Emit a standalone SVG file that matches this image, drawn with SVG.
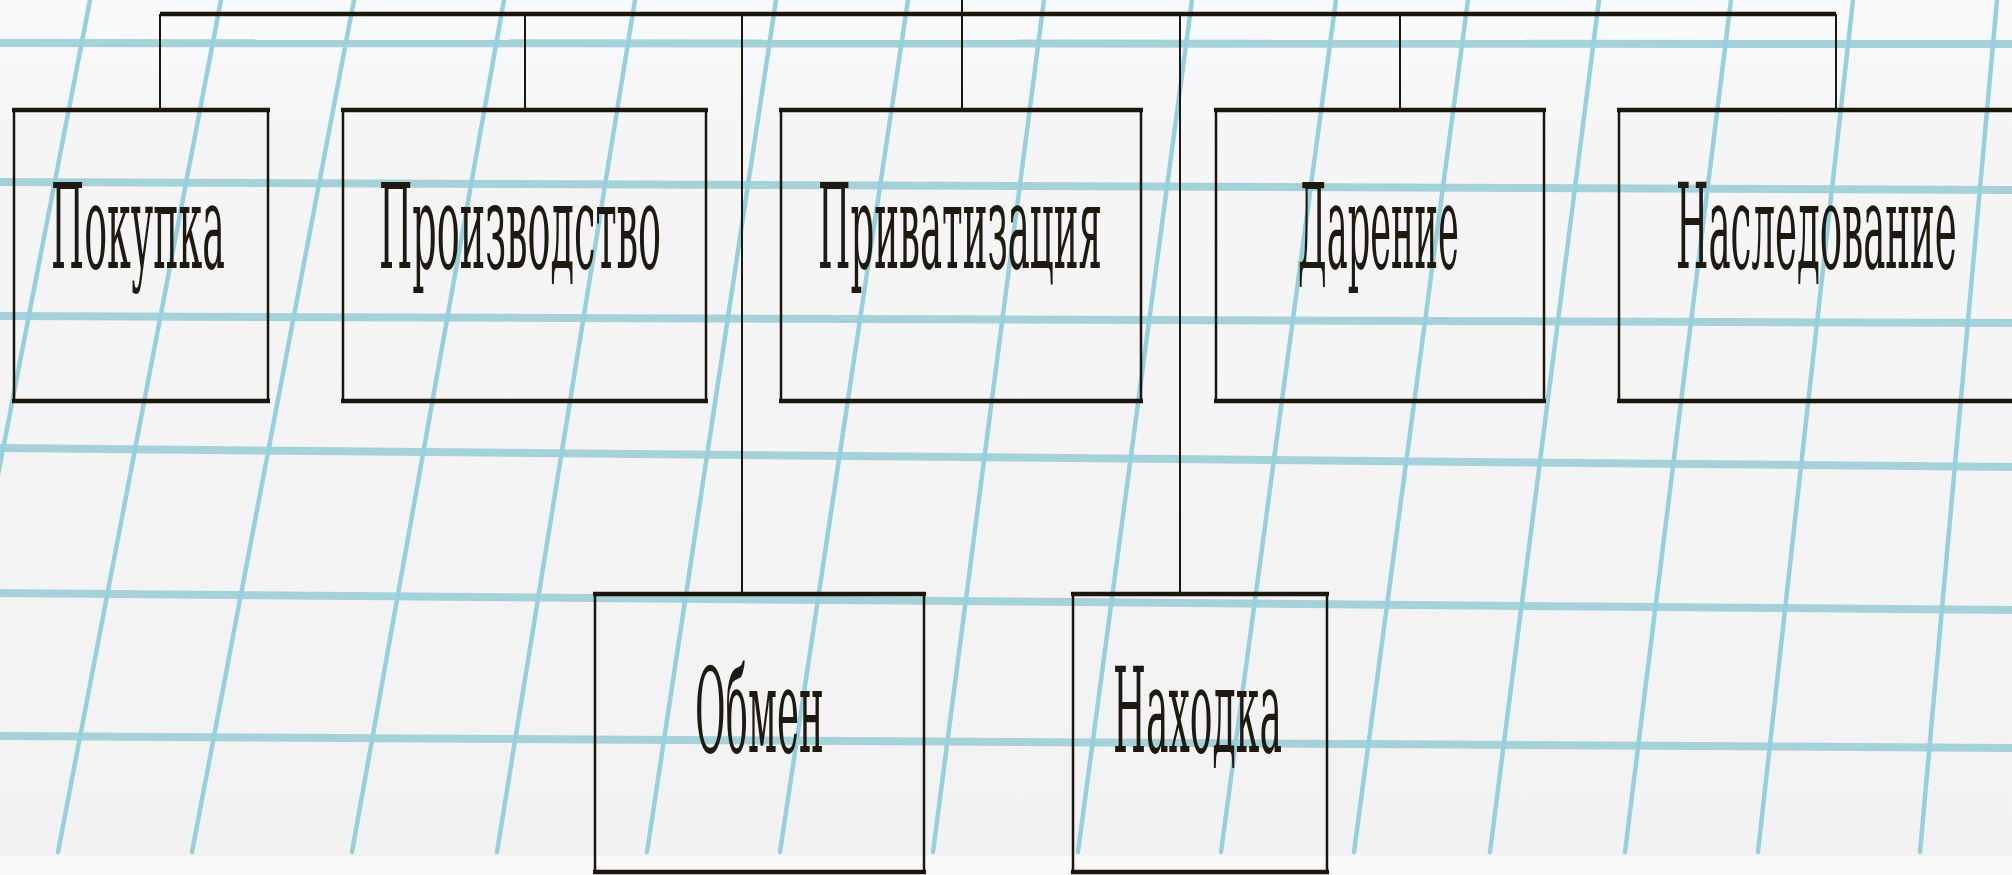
<svg xmlns="http://www.w3.org/2000/svg" width="2012" height="875" viewBox="0 0 2012 875">
<style>
.hl{stroke:#a5d2d9;stroke-width:8;fill:none}
.sl{stroke:#95d0df;stroke-width:4.5;fill:none;stroke-linecap:round}
.box{fill:none;stroke:#1b170c;stroke-width:2.5}
.edge{stroke:#1b170c;stroke-width:4.5}
.con{stroke:#1b170c;stroke-width:2;fill:none}
.bar{stroke:#1b170c;stroke-width:4.5;fill:none}
.lbl{font-family:"DejaVu Serif","Liberation Serif",serif;font-size:118px;fill:#1e1a10}
</style>
<defs>
<linearGradient id="bg" x1="0" y1="0" x2="0" y2="1">
<stop offset="0" stop-color="#f8fafb"/>
<stop offset="0.15" stop-color="#f6f5f6"/>
<stop offset="1" stop-color="#f3f2f3"/>
</linearGradient>
</defs>
<rect x="0" y="0" width="2012" height="875" fill="url(#bg)"/>
<rect x="0" y="856" width="2012" height="19" fill="#fafafa"/>
<g id="grid">
<line class="hl" x1="0" y1="43" x2="2012" y2="44"/>
<line class="hl" x1="0" y1="182" x2="2012" y2="190"/>
<line class="hl" x1="0" y1="316" x2="2012" y2="323"/>
<line class="hl" x1="0" y1="448" x2="2012" y2="467"/>
<line class="hl" x1="0" y1="593" x2="2012" y2="610"/>
<line class="hl" x1="0" y1="736" x2="2012" y2="748"/>
<line class="sl" x1="-75" y1="852" x2="90" y2="0"/>
<line class="sl" x1="58" y1="852" x2="221" y2="0"/>
<line class="sl" x1="192" y1="852" x2="354" y2="0"/>
<line class="sl" x1="352" y1="852" x2="504" y2="0"/>
<line class="sl" x1="497" y1="852" x2="635" y2="0"/>
<line class="sl" x1="647" y1="852" x2="776" y2="0"/>
<line class="sl" x1="780" y1="852" x2="908" y2="0"/>
<line class="sl" x1="933" y1="852" x2="1044" y2="0"/>
<line class="sl" x1="1078" y1="852" x2="1192" y2="0"/>
<line class="sl" x1="1221" y1="852" x2="1336" y2="0"/>
<line class="sl" x1="1354" y1="852" x2="1468" y2="0"/>
<line class="sl" x1="1490" y1="852" x2="1599" y2="0"/>
<line class="sl" x1="1625" y1="852" x2="1731" y2="0"/>
<line class="sl" x1="1758" y1="852" x2="1853" y2="0"/>
<line class="sl" x1="1920" y1="852" x2="1997" y2="0"/>
</g>
<g id="connectors">
<line class="bar" x1="160" y1="14" x2="1836" y2="14"/>
<line class="con" x1="160" y1="14" x2="160" y2="110"/>
<line class="con" x1="525" y1="14" x2="525" y2="110"/>
<line class="con" x1="962" y1="0" x2="962" y2="110"/>
<line class="con" x1="1400" y1="14" x2="1400" y2="110"/>
<line class="con" x1="1836" y1="14" x2="1836" y2="110"/>
<line class="con" x1="742" y1="14" x2="742" y2="594"/>
<line class="con" x1="1180" y1="14" x2="1180" y2="594"/>
</g>
<g id="node-pokupka">
<rect class="box" x="14" y="110" width="254" height="291"/>
<line class="edge" x1="12" y1="110" x2="270" y2="110"/><line class="edge" x1="12" y1="401" x2="270" y2="401"/>
<text class="lbl" transform="translate(51,268) scale(0.31,1)" x="0" y="0" textLength="561" lengthAdjust="spacingAndGlyphs">Покупка</text>
</g>
<g id="node-proizvodstvo">
<rect class="box" x="343" y="110" width="363" height="291"/>
<line class="edge" x1="341" y1="110" x2="708" y2="110"/><line class="edge" x1="341" y1="401" x2="708" y2="401"/>
<text class="lbl" transform="translate(379,268) scale(0.31,1)" x="0" y="0" textLength="910" lengthAdjust="spacingAndGlyphs">Производство</text>
</g>
<g id="node-privatizatsiya">
<rect class="box" x="781" y="110" width="360" height="291"/>
<line class="edge" x1="779" y1="110" x2="1143" y2="110"/><line class="edge" x1="779" y1="401" x2="1143" y2="401"/>
<text class="lbl" transform="translate(818,268) scale(0.31,1)" x="0" y="0" textLength="916" lengthAdjust="spacingAndGlyphs">Приватизация</text>
</g>
<g id="node-darenie">
<rect class="box" x="1216" y="110" width="328" height="291"/>
<line class="edge" x1="1214" y1="110" x2="1546" y2="110"/><line class="edge" x1="1214" y1="401" x2="1546" y2="401"/>
<text class="lbl" transform="translate(1298,268) scale(0.31,1)" x="0" y="0" textLength="519" lengthAdjust="spacingAndGlyphs">Дарение</text>
</g>
<g id="node-nasledovanie">
<rect class="box" x="1619" y="110" width="420" height="291"/>
<line class="edge" x1="1617" y1="110" x2="2012" y2="110"/><line class="edge" x1="1617" y1="401" x2="2012" y2="401"/>
<text class="lbl" transform="translate(1676,268) scale(0.31,1)" x="0" y="0" textLength="906" lengthAdjust="spacingAndGlyphs">Наследование</text>
</g>
<g id="node-obmen">
<rect class="box" x="595" y="594" width="329" height="278"/>
<line class="edge" x1="593" y1="594" x2="926" y2="594"/><line class="edge" x1="593" y1="872" x2="926" y2="872"/>
<text class="lbl" transform="translate(695,752) scale(0.31,1)" x="0" y="0" textLength="416" lengthAdjust="spacingAndGlyphs">Обмен</text>
</g>
<g id="node-nakhodka">
<rect class="box" x="1073" y="594" width="254" height="278"/>
<line class="edge" x1="1071" y1="594" x2="1329" y2="594"/><line class="edge" x1="1071" y1="872" x2="1329" y2="872"/>
<text class="lbl" transform="translate(1113,752) scale(0.31,1)" x="0" y="0" textLength="545" lengthAdjust="spacingAndGlyphs">Находка</text>
</g>
</svg>
